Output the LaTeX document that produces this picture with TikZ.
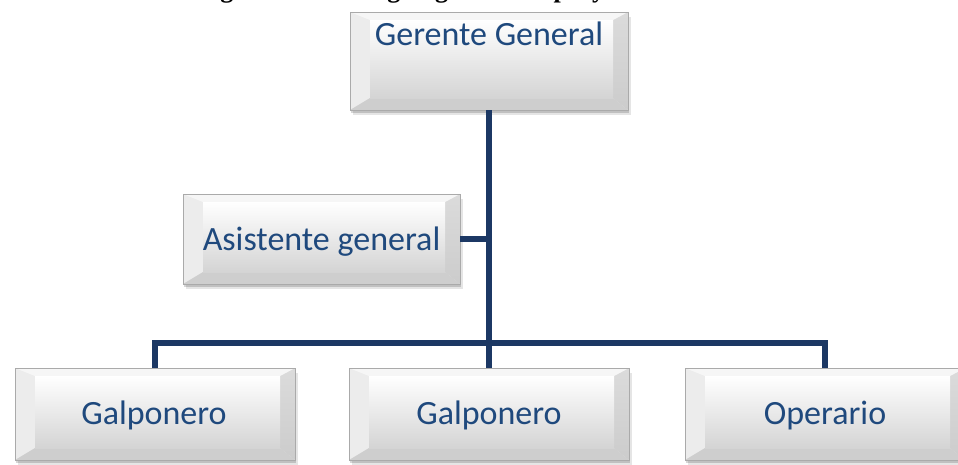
\documentclass[tikz,border=0pt]{standalone}
\usepackage{fontspec}
\setmainfont{Carlito}
\newfontfamily\capfont{Liberation Serif}
\usetikzlibrary{calc}
\definecolor{txtblue}{RGB}{31,73,125}
\definecolor{linenavy}{RGB}{28,56,100}
\definecolor{bord}{RGB}{170,170,170}
\definecolor{bevtop}{RGB}{246,246,246}
\definecolor{bevleft}{RGB}{236,236,236}
\definecolor{bevright}{RGB}{204,204,204}
\definecolor{bevbot}{RGB}{206,206,206}
\definecolor{facebot}{RGB}{212,212,212}
\begin{document}
\begin{tikzpicture}[x=1pt,y=-1pt,
  bevelbox/.style={rectangle, inner sep=0pt, draw=bord, line width=0.7pt, fill=bevleft,
    preaction={fill=black, opacity=0.10, transform canvas={shift={(2.5pt,-4.5pt)}}},
    preaction={fill=black, opacity=0.16, transform canvas={shift={(1pt,-2.5pt)}}},
    path picture={
      \coordinate (pnw) at (path picture bounding box.north west);
      \coordinate (pne) at (path picture bounding box.north east);
      \coordinate (psw) at (path picture bounding box.south west);
      \coordinate (pse) at (path picture bounding box.south east);
      \coordinate (inw) at ([xshift=20pt,yshift=-8pt]pnw);
      \coordinate (ine) at ([xshift=-15pt,yshift=-8pt]pne);
      \coordinate (isw) at ([xshift=20pt,yshift=12pt]psw);
      \coordinate (ise) at ([xshift=-15pt,yshift=12pt]pse);
      \fill[bevleft] (pnw) -- (inw) -- (isw) -- (psw) -- cycle;
      \shade[top color=bevright!70!white, bottom color=bevright] (pne) -- (ine) -- (ise) -- (pse) -- cycle;
      \fill[bevtop] (pnw) -- (pne) -- (ine) -- (inw) -- cycle;
      \fill[bevbot] (psw) -- (pse) -- (ise) -- (isw) -- cycle;
      \shade[top color=white, bottom color=facebot] (inw) rectangle (ise);
    }},
  lbl/.style={font=\fontsize{34}{40}\selectfont, text=txtblue, anchor=base, inner sep=0pt},
  capnode/.style={font=\capfont\bfseries\fontsize{26}{30}\selectfont, anchor=base west, inner sep=0pt},
  conn/.style={draw=linenavy, line width=5.5pt}]
\useasboundingbox (0,0) rectangle (958,464);

\node[capnode] (cap) at (197,-3) {Figura N° 12. Organigrama del proyecto};

% boxes
\node[bevelbox, minimum width=278pt, minimum height=98pt] (gg) at (489,61) {};
\node[bevelbox, minimum width=277pt, minimum height=90pt] (asis) at (321.5,239) {};
\node[bevelbox, minimum width=280pt, minimum height=92pt] (g1) at (155,414) {};
\node[bevelbox, minimum width=280pt, minimum height=92pt] (g2) at (489,414) {};
\node[bevelbox, minimum width=280pt, minimum height=92pt] (op) at (825,414) {};

% connectors
\coordinate (bus) at (489,343);
\draw[conn] (gg.south) -- (g2.north);
\draw[conn] (asis.east) -- (asis.east -| gg.south);
\draw[conn] (g1.north) -- (g1.north |- bus) -- (op.north |- bus) -- (op.north);

% labels
\node[lbl] (ggt) at ($(gg.north)+(0,34)$) {Gerente General};
\node[lbl] (asist) at ($(asis.center)+(0,11)$) {Asistente general};
\node[lbl] (g1t) at ($(g1.center)+(-1,10)$) {Galponero};
\node[lbl] (g2t) at ($(g2.center)+(0,10)$) {Galponero};
\node[lbl] (opt) at ($(op.center)+(0,10)$) {Operario};
\end{tikzpicture}
\end{document}
